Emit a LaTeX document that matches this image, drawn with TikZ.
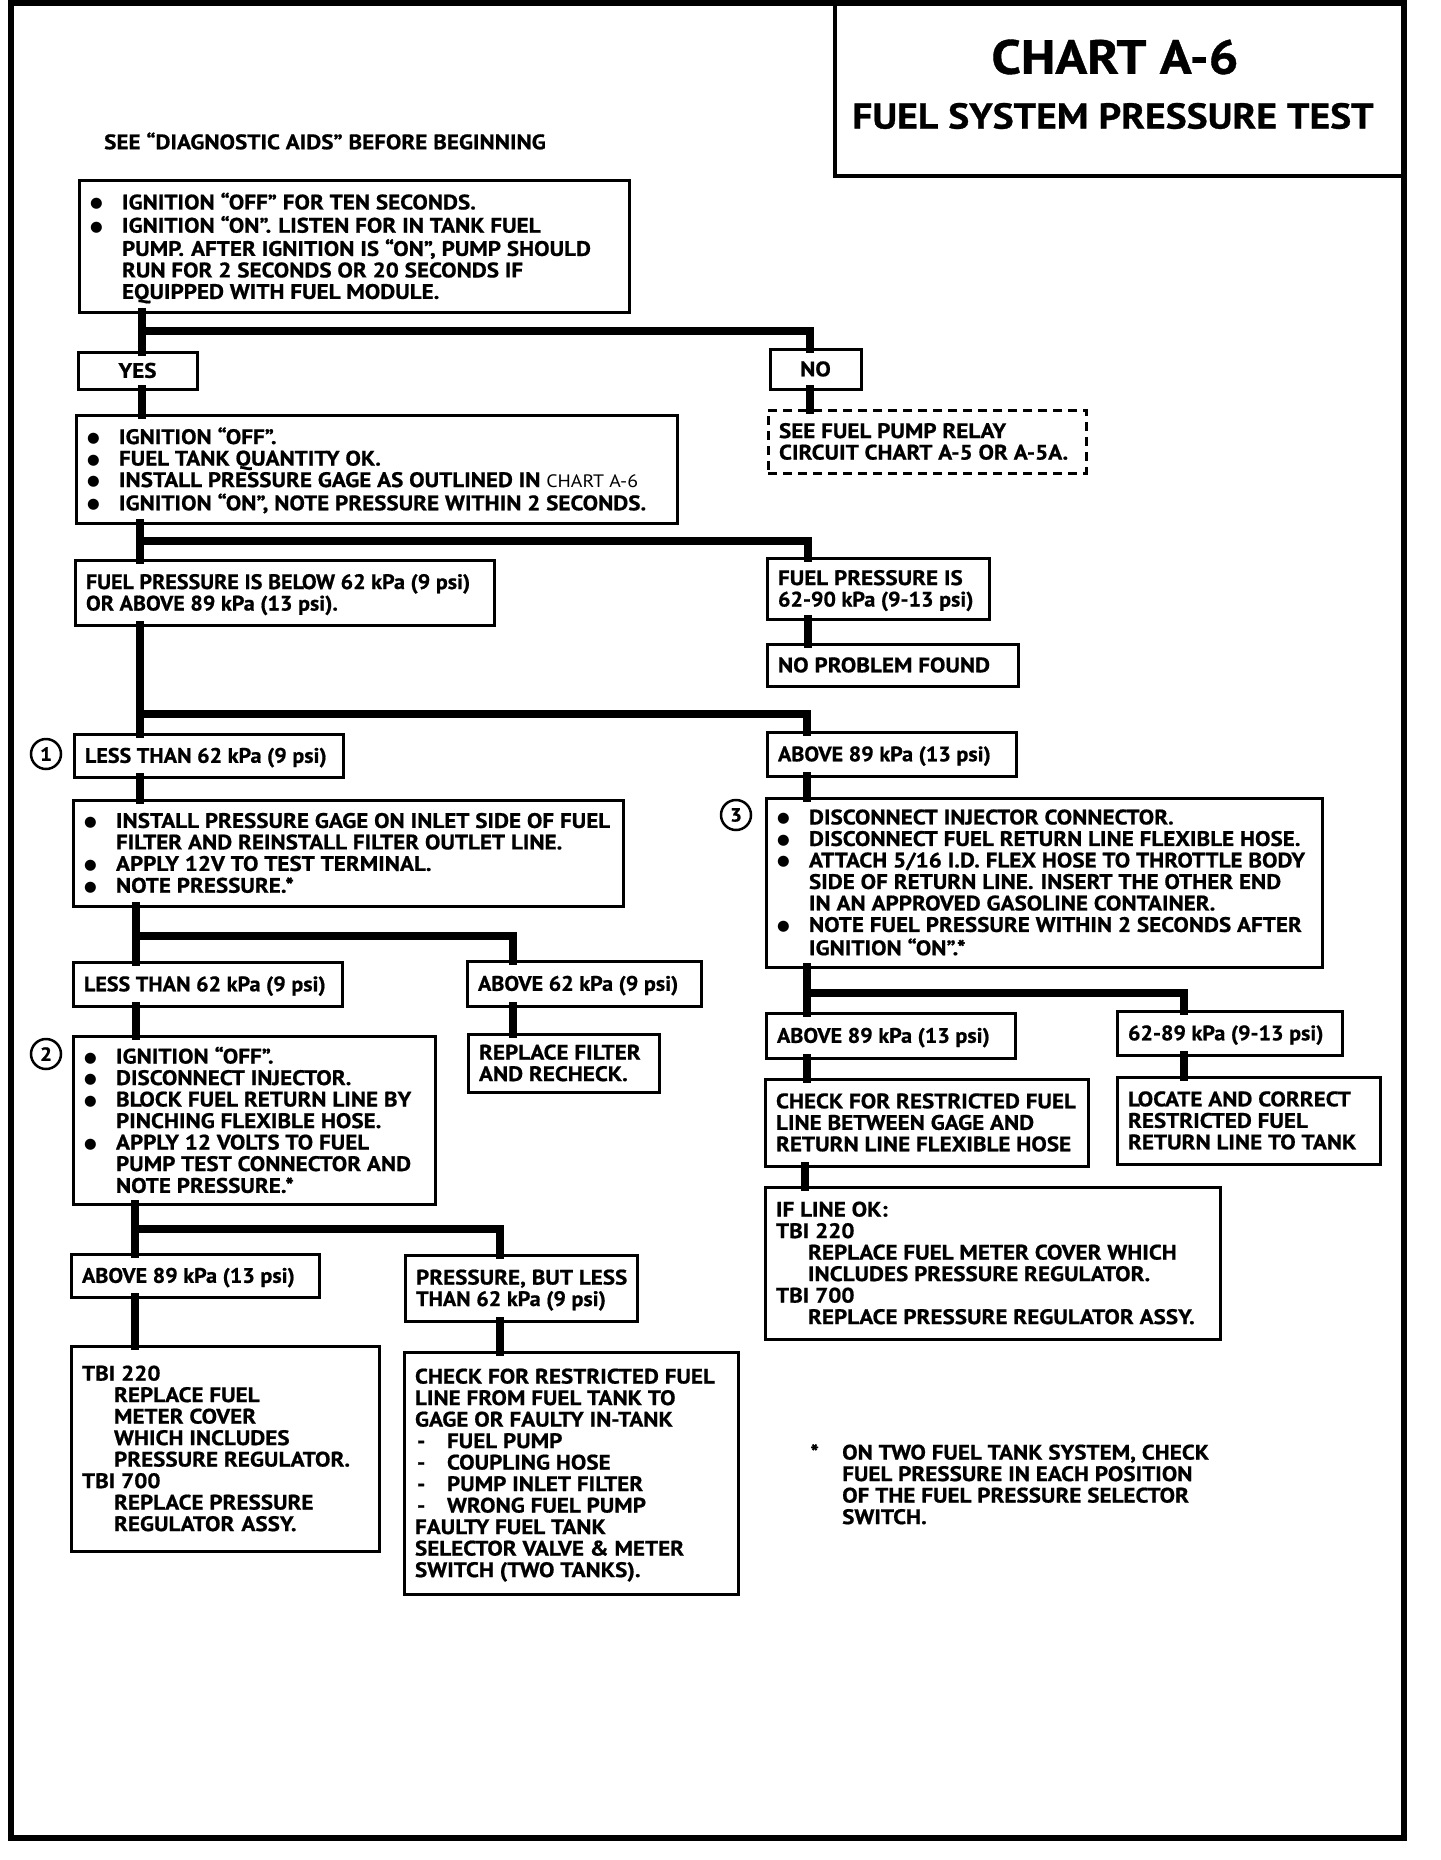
\documentclass[tikz,border=0pt]{standalone}
\usepackage{graphicx}
\usepackage{fontspec}
\setmainfont{PT Sans}[FakeStretch=1.1, BoldFeatures={FakeBold=0.8}]
\newfontfamily\dvs{DejaVu Sans}
\newcommand\bodyfont{\fontsize{21}{21.5}\selectfont\bfseries}
\newcommand\bl{\makebox[32pt][l]{\hspace{0pt}\raisebox{1.5pt}{\dvs\fontsize{14.5}{14.5}\selectfont ●}}}
\newcommand\ind{\hspace*{32pt}}
\newcommand\dsh{\makebox[32pt][l]{\hspace{2pt}-}}
\newcommand\dsp{\hspace{7pt}}
\newcommand\nar[1]{\scalebox{0.955}[1]{#1}}
\tikzset{
  box/.style={draw, line width=3pt, fill=white, inner xsep=11pt, inner ysep=0pt,
    outer sep=0pt, anchor=north west, font=\bodyfont},
  dbox/.style={dash pattern=on 9pt off 6pt},
  conn/.style={line width=8pt, line cap=rect},
  circ/.style={circle, draw, line width=2.5pt, minimum size=30pt, inner sep=0pt,
    font=\fontsize{19}{19}\selectfont\bfseries},
  plain/.style={font=\bodyfont, anchor=north west, inner sep=0pt},
}
% style, alignment (l/c), name, x1, y1, x2, y2, text
\newcommand\mkbox[8]{%
  \pgfmathsetmacro\bw{#6-#4}\pgfmathsetmacro\bh{#7-#5}\pgfmathsetmacro\tw{#6-#4-22}%
  \node[box,#1,minimum width=\bw pt,minimum height=\bh pt] (#3) at (#4,#5)
    {\makebox[\tw pt][#2]{\raisebox{-3pt}[\height][\depth]{\begin{tabular}{@{}l@{}}#8\end{tabular}}}};}
\begin{document}
\begin{tikzpicture}[x=1pt,y=-1pt]
\useasboundingbox (0,0) rectangle (1440,1860);
% frame
\draw[line width=6pt] (11,3) rectangle (1404,1838);
\node[draw, line width=3.5pt, outer sep=0pt, anchor=north west, minimum width=569pt, minimum height=173pt] (title) at (835,3) {};
\node[font=\fontsize{48}{48}\selectfont\bfseries, inner sep=0pt] (t1) at (1115,57) {CHART A-6};
\node[font=\fontsize{36}{36}\selectfont\bfseries, inner sep=0pt] (t2) at (1113,116) {FUEL SYSTEM PRESSURE TEST};
\node[font=\bodyfont, anchor=west, inner sep=0pt] (see) at (104,141) {SEE “DIAGNOSTIC AIDS” BEFORE BEGINNING};

% junction coordinates
\coordinate (ja) at (142,331); \coordinate (jb) at (810,331);
\coordinate (jc) at (140,541); \coordinate (jd) at (808,541);
\coordinate (je) at (140,714); \coordinate (jf) at (807,714);
\coordinate (jg) at (136,936); \coordinate (jh) at (513,936);
\coordinate (ji) at (135,1229); \coordinate (jj) at (500,1229);
\coordinate (jk) at (807,993); \coordinate (jl) at (1184,993);
\coordinate (jm) at (805,1176);

% boxes
\mkbox{}{l}{b1}{79}{180}{629}{312}{\bl IGNITION “OFF” FOR TEN SECONDS.\\
\bl IGNITION “ON”.\dsp LISTEN FOR IN TANK FUEL\\
\ind PUMP.\dsp AFTER IGNITION IS “ON”, PUMP SHOULD\\
\ind RUN FOR 2 SECONDS OR 20 SECONDS IF\\
\ind EQUIPPED WITH FUEL MODULE.}
\mkbox{}{c}{yes}{78}{352}{197}{389}{YES}
\mkbox{}{c}{no}{770}{349}{861}{389}{NO}
\mkbox{dbox}{l}{relay}{768}{410}{1086}{473}{SEE FUEL PUMP RELAY\\ CIRCUIT CHART A-5 OR A-5A.}
\mkbox{}{l}{b2}{76}{415}{677}{523}{\bl IGNITION “OFF”.\\
\bl FUEL TANK QUANTITY OK.\\
\bl INSTALL PRESSURE GAGE AS OUTLINED IN {\mdseries\fontsize{18}{18}\selectfont CHART A-6}\\
\bl IGNITION “ON”, NOTE PRESSURE WITHIN 2 SECONDS.}
\mkbox{}{l}{fpo}{75}{560}{494}{625}{\nar{FUEL PRESSURE IS BELOW 62 kPa (9 psi)}\\ \nar{OR ABOVE 89 kPa (13 psi).}}
\mkbox{}{l}{fpi}{767}{558}{989}{619}{FUEL PRESSURE IS\\ \nar{62-90 kPa (9-13 psi)}}
\mkbox{}{l}{npf}{767}{644}{1018}{686}{NO PROBLEM FOUND}
\mkbox{}{l}{less1}{74}{734}{343}{777}{\nar{LESS THAN 62 kPa (9 psi)}}
\mkbox{}{l}{abv1}{767}{732}{1016}{776}{\nar{ABOVE 89 kPa (13 psi)}}
\mkbox{}{l}{inst}{73}{800}{623}{906}{\bl INSTALL PRESSURE GAGE ON INLET SIDE OF FUEL\\
\ind FILTER AND REINSTALL FILTER OUTLET LINE.\\
\bl APPLY 12V TO TEST TERMINAL.\\
\bl NOTE PRESSURE.*}
\mkbox{}{l}{disc}{766}{798}{1322}{967}{\bl DISCONNECT INJECTOR CONNECTOR.\\
\bl DISCONNECT FUEL RETURN LINE FLEXIBLE HOSE.\\
\bl ATTACH 5/16 I.D. FLEX HOSE TO THROTTLE BODY\\
\ind SIDE OF RETURN LINE.\dsp INSERT THE OTHER END\\
\ind IN AN APPROVED GASOLINE CONTAINER.\\
\bl NOTE FUEL PRESSURE WITHIN 2 SECONDS AFTER\\
\ind IGNITION “ON”.*}
\mkbox{}{l}{less2}{73}{962}{342}{1006}{\nar{LESS THAN 62 kPa (9 psi)}}
\mkbox{}{l}{abv62}{467}{961}{701}{1006}{\nar{ABOVE 62 kPa (9 psi)}}
\mkbox{}{l}{ign2}{73}{1036}{435}{1204}{\bl IGNITION “OFF”.\\
\bl DISCONNECT INJECTOR.\\
\bl BLOCK FUEL RETURN LINE BY\\
\ind PINCHING FLEXIBLE HOSE.\\
\bl APPLY 12 VOLTS TO FUEL\\
\ind PUMP TEST CONNECTOR AND\\
\ind NOTE PRESSURE.*}
\mkbox{}{l}{repl}{468}{1034}{659}{1092}{REPLACE FILTER\\ AND RECHECK.}
\mkbox{}{l}{abv89r}{766}{1013}{1015}{1058}{\nar{ABOVE 89 kPa (13 psi)}}
\mkbox{}{l}{r6289}{1117}{1011}{1342}{1055}{\nar{62-89 kPa (9-13 psi)}}
\mkbox{}{l}{chkr}{765}{1079}{1088}{1166}{CHECK FOR RESTRICTED FUEL\\ LINE BETWEEN GAGE AND\\ RETURN LINE FLEXIBLE HOSE}
\mkbox{}{l}{loc}{1117}{1077}{1380}{1164}{LOCATE AND CORRECT\\ RESTRICTED FUEL\\ RETURN LINE TO TANK}
\mkbox{}{l}{ifok}{765}{1187}{1220}{1339}{IF LINE OK:\\ TBI 220\\ \ind REPLACE FUEL METER COVER WHICH\\ \ind INCLUDES PRESSURE REGULATOR.\\ TBI 700\\ \ind REPLACE PRESSURE REGULATOR ASSY.}
\mkbox{}{l}{abv89l}{71}{1254}{319}{1297}{\nar{ABOVE 89 kPa (13 psi)}}
\mkbox{}{l}{pbl}{405}{1255}{637}{1321}{PRESSURE, BUT LESS\\ \nar{THAN 62 kPa (9 psi)}}
\mkbox{}{l}{tbi}{71}{1346}{379}{1551}{TBI 220\\ \ind REPLACE FUEL\\ \ind METER COVER\\ \ind WHICH INCLUDES\\ \ind PRESSURE REGULATOR.\\ TBI 700\\ \ind REPLACE PRESSURE\\ \ind REGULATOR\dsp ASSY.}
\mkbox{}{l}{chkl}{404}{1352}{738}{1594}{CHECK FOR RESTRICTED FUEL\\ LINE FROM FUEL TANK TO\\ GAGE OR FAULTY IN-TANK\\ \dsh FUEL PUMP\\ \dsh COUPLING HOSE\\ \dsh PUMP INLET FILTER\\ \dsh WRONG FUEL PUMP\\ FAULTY FUEL TANK\\ SELECTOR VALVE \& METER\\ SWITCH (TWO TANKS).}

% circled numbers
\node[circ] (c1) at (46,754) {1};
\node[circ] (c2) at (46,1054) {2};
\node[circ] (c3) at (736,815) {3};

% footnote
\node[plain] (foot) at (810,1444) {\begin{tabular}{@{}l@{}}\makebox[32pt][l]{*}ON TWO FUEL TANK SYSTEM, CHECK\\ \ind FUEL PRESSURE IN EACH POSITION\\ \ind OF THE FUEL PRESSURE SELECTOR\\ \ind SWITCH.\end{tabular}};

% connectors
\draw[conn] (b1.south -| ja) -- (yes.north -| ja);
\draw[conn] (ja) -- (jb) -- (no.north -| jb);
\draw[conn] (no.south -| jb) -- (relay.north -| jb);
\draw[conn] (yes.south -| ja) -- (b2.north -| ja);
\draw[conn] (b2.south -| jc) -- (fpo.north -| jc);
\draw[conn] (jc) -- (jd) -- (fpi.north -| jd);
\draw[conn] (fpi.south -| jd) -- (npf.north -| jd);
\draw[conn] (fpo.south -| je) -- (less1.north -| je);
\draw[conn] (je) -- (jf) -- (abv1.north -| jf);
\draw[conn] (less1.south -| je) -- (inst.north -| je);
\draw[conn] (abv1.south -| jf) -- (disc.north -| jf);
\draw[conn] (inst.south -| jg) -- (less2.north -| jg);
\draw[conn] (jg) -- (jh) -- (abv62.north -| jh);
\draw[conn] (abv62.south -| jh) -- (repl.north -| jh);
\draw[conn] (less2.south -| jg) -- (ign2.north -| jg);
\draw[conn] (ign2.south -| ji) -- (abv89l.north -| ji);
\draw[conn] (ji) -- (jj) -- (pbl.north -| jj);
\draw[conn] (abv89l.south -| ji) -- (tbi.north -| ji);
\draw[conn] (pbl.south -| jj) -- (chkl.north -| jj);
\draw[conn] (disc.south -| jk) -- (abv89r.north -| jk);
\draw[conn] (jk) -- (jl) -- (r6289.north -| jl);
\draw[conn] (abv89r.south -| jk) -- (chkr.north -| jk);
\draw[conn] (r6289.south -| jl) -- (loc.north -| jl);
\draw[conn] (chkr.south -| jm) -- (ifok.north -| jm);
\end{tikzpicture}
\end{document}
